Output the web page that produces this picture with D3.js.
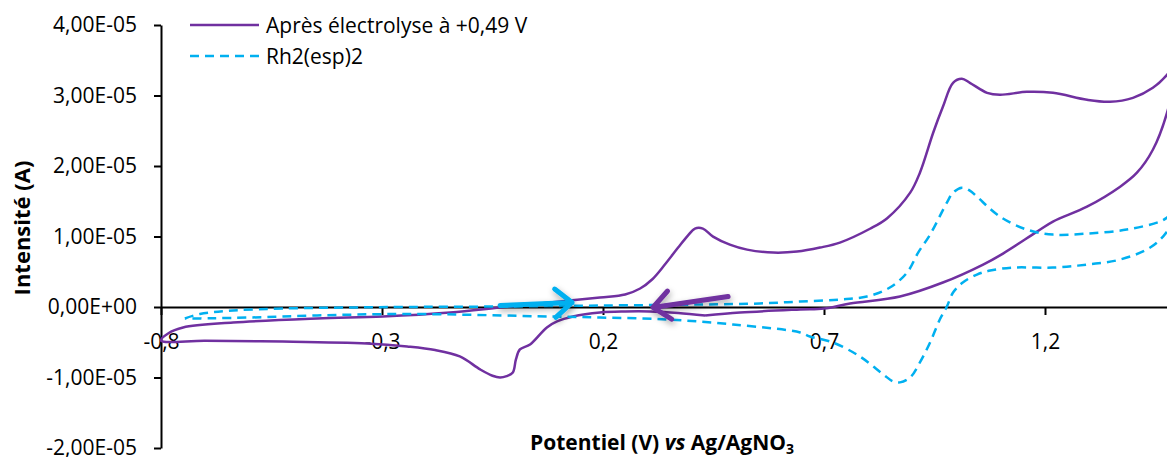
<!DOCTYPE html>
<html>
<head>
<meta charset="utf-8">
<script src="https://cdn.jsdelivr.net/npm/d3@7"></script>
<style>
  body { margin: 0; background: #fff; }
  svg { display: block; font-family: "Open Sans", sans-serif; }
</style>
</head>
<body>
<div id="cv_chart"></div>
<script>
//Data (potential in V, current in µA)
var seriesNames = ["Après électrolyse à +0,49 V", "Rh2(esp)2"];

var purpleV = [0.431, 0.370, 0.306, 0.250, 0.193, 0.132, 0.096, 0.073, 0.035, 0.012, 0.003, -0.004, -0.018, -0.033, -0.050, -0.078, -0.124, -0.180, -0.243, -0.334, -0.524, -0.700, -0.800,
  -0.784, -0.750, -0.637, -0.447, -0.298, -0.146, -0.033, 0.080, 0.193, 0.250, 0.284, 0.311, 0.340, 0.370, 0.392, 0.408, 0.426, 0.449, 0.487, 0.526, 0.585, 0.639, 0.691, 0.736, 0.804, 0.843, 0.895, 0.917, 0.947, 0.969, 0.992, 1.012, 1.030, 1.069, 1.098, 1.159, 1.218, 1.295, 1.347, 1.399, 1.444, 1.476, 1.500,
  1.476, 1.444, 1.408, 1.370, 1.295, 1.218, 1.182, 1.105, 1.060, 0.969, 0.872, 0.759, 0.700, 0.646, 0.510, 0.431];
var purpleI = [-1.20, -0.85, -0.64, -0.64, -0.78, -1.35, -2.05, -2.90, -5.31, -6.02, -7.44, -9.28, -9.80, -10.00, -9.75, -8.85, -7.01, -6.10, -5.60, -5.17, -4.89, -4.80, -4.74,
  -3.75, -2.90, -2.20, -1.63, -1.35, -0.78, -0.07, 0.64, 1.35, 1.77, 2.62, 3.90, 6.02, 8.43, 10.13, 11.12, 11.12, 9.99, 8.85, 8.14, 7.72, 7.86, 8.43, 9.14, 11.10, 12.60, 16.22, 19.05, 24.72, 28.40, 31.80, 32.37, 31.80, 30.38, 30.10, 30.52, 30.38, 29.39, 29.11, 29.67, 31.09, 32.93, 35.0,
  27.55, 22.31, 19.05, 17.07, 14.23, 12.11, 10.69, 7.58, 6.02, 3.47, 1.49, 0.50, -0.21, -0.35, -0.78, -1.20];

var cyanV = [-0.746, -0.712, -0.637, -0.524, -0.373, -0.259, -0.033, 0.193, 0.419, 0.555, 0.646, 0.736, 0.797, 0.849, 0.888, 0.913, 0.940, 0.978, 0.992, 1.012, 1.030, 1.046, 1.098, 1.159, 1.218, 1.295, 1.385, 1.460, 1.476, 1.500,
  1.476, 1.438, 1.370, 1.295, 1.218, 1.128, 1.076, 1.046, 1.014, 0.992, 0.978, 0.962, 0.940, 0.917, 0.895, 0.872, 0.856, 0.834, 0.781, 0.720, 0.668, 0.646, 0.494, 0.345, 0.193, 0.080, -0.243, -0.447, -0.599, -0.690, -0.746];
var cyanI = [-1.63, -0.99, -0.50, -0.21, -0.07, 0.00, 0.07, 0.21, 0.35, 0.50, 0.78, 1.06, 1.49, 2.76, 4.89, 7.72, 10.27, 14.80, 16.22, 16.93, 16.50, 15.65, 12.82, 10.98, 10.27, 10.41, 10.98, 12.11, 12.68, 14.0,
  10.69, 8.43, 6.73, 6.02, 5.59, 5.59, 5.17, 4.60, 3.47, 2.05, 0.07, -1.77, -5.03, -7.86, -9.99, -10.69, -10.55, -9.56, -7.01, -5.03, -4.18, -3.61, -2.48, -1.77, -1.49, -1.35, -0.99, -1.20, -1.49, -1.60, -1.63];

//Scan direction arrows (tail, head)
var arrowCyanV = [-0.033, 0.130];
var arrowCyanI = [0.21, 0.64];
var arrowPurpleV = [0.483, 0.313];
var arrowPurpleI = [1.49, -0.07];

//Ticks
var xTicks = [-0.8, -0.3, 0.2, 0.7, 1.2];
var xTickLabels = ["-0,8", "-0,3", "0,2", "0,7", "1,2"];
var yTicks = [-2e-5, -1e-5, 0, 1e-5, 2e-5, 3e-5, 4e-5];
var yTickLabels = ["-2,00E-05", "-1,00E-05", "0,00E+00", "1,00E-05", "2,00E-05", "3,00E-05", "4,00E-05"];

var purple = "#7030A0",
    cyan = "#00B0F0";

var width = 1167,
    height = 457;

var svg = d3.select("#cv_chart")
  .append("svg")
    .attr("width", width)
    .attr("height", height);

//Shadow for arrows
var defs = svg.append("defs");
var shadow = defs.append("filter")
    .attr("id", "arrowShadow")
    .attr("x", "-50%").attr("y", "-100%")
    .attr("width", "200%").attr("height", "300%");
shadow.append("feDropShadow")
    .attr("dx", 1)
    .attr("dy", 3)
    .attr("stdDeviation", 3)
    .attr("flood-color", "#000")
    .attr("flood-opacity", 0.35);

//Scales
var x = d3.scaleLinear()
  .domain([-0.8, 1.5])
  .range([161, 161 + 2.3 * 442]);
var y = d3.scaleLinear()
  .domain([-2e-5, 4e-5])
  .range([448, 25]);

//Y Axis
var yAxis = svg.append("g")
  .attr("transform", "translate(" + x(-0.8) + ",0)")
  .call(d3.axisLeft(y)
    .tickValues(yTicks)
    .tickSize(7)
    .tickSizeOuter(0)
    .tickFormat(function(d, i) { return yTickLabels[i]; }));
yAxis.select(".domain").attr("stroke", "#000").attr("stroke-width", 2);
yAxis.selectAll(".tick line").attr("stroke", "#000").attr("stroke-width", 2);
yAxis.selectAll(".tick text")
  .attr("x", -24)
  .attr("fill", "#000")
  .style("font-family", "'Open Sans', sans-serif")
  .style("font-size", "21px");

//X Axis (crosses at 0)
var xAxis = svg.append("g")
  .attr("transform", "translate(0," + y(0) + ")")
  .call(d3.axisBottom(x)
    .tickValues(xTicks)
    .tickSize(8)
    .tickSizeOuter(0)
    .tickFormat(function(d, i) { return xTickLabels[i]; }));
xAxis.select(".domain").attr("stroke", "#000").attr("stroke-width", 2);
xAxis.selectAll(".tick line").attr("stroke", "#000").attr("stroke-width", 2);
xAxis.selectAll(".tick text")
  .attr("y", 42)
  .attr("dy", null)
  .attr("fill", "#000")
  .style("font-family", "'Open Sans', sans-serif")
  .style("font-size", "21px");

//Axis titles
var xTitle = svg.append("text")
  .attr("x", 662)
  .attr("y", 450)
  .attr("text-anchor", "middle")
  .style("font-size", "21px")
  .style("font-weight", "bold");
xTitle.append("tspan").text("Potentiel (V) ");
xTitle.append("tspan").style("font-style", "italic").text("vs");
xTitle.append("tspan").text(" Ag/AgNO");
xTitle.append("tspan").attr("dy", 4).style("font-size", "14px").text("3");

svg.append("text")
  .attr("transform", "translate(30,228)rotate(-90)")
  .attr("text-anchor", "middle")
  .style("font-size", "22px")
  .style("font-weight", "bold")
  .text("Intensité (A)");

//Curves
var line = d3.line()
  .x(function(d) { return x(d[0]); })
  .y(function(d) { return y(d[1] * 1e-6); })
  .curve(d3.curveCatmullRom.alpha(0.5));

var purpleData = purpleV.map(function(v, i) { return [v, purpleI[i]]; });
var cyanData = cyanV.map(function(v, i) { return [v, cyanI[i]]; });

svg.append("path")
  .datum(purpleData)
  .attr("fill", "none")
  .attr("stroke", purple)
  .attr("stroke-width", 2.5)
  .attr("d", line);

svg.append("path")
  .datum(cyanData)
  .attr("fill", "none")
  .attr("stroke", cyan)
  .attr("stroke-width", 2.5)
  .attr("stroke-dasharray", "9,6")
  .attr("d", line);

//Arrows
function drawArrow(vs, is, color) {
  var x0 = x(vs[0]), y0 = y(is[0] * 1e-6),
      x1 = x(vs[1]), y1 = y(is[1] * 1e-6);
  var ang = Math.atan2(y1 - y0, x1 - x0),
      len = 22, spread = 0.7;
  var a1 = [x1 - len * Math.cos(ang - spread), y1 - len * Math.sin(ang - spread)],
      a2 = [x1 - len * Math.cos(ang + spread), y1 - len * Math.sin(ang + spread)];
  var g = svg.append("g").attr("filter", "url(#arrowShadow)");
  g.append("path")
    .attr("d", "M" + x0 + "," + y0 + "L" + x1 + "," + y1 +
               "M" + a1[0] + "," + a1[1] + "L" + x1 + "," + y1 + "L" + a2[0] + "," + a2[1])
    .attr("fill", "none")
    .attr("stroke", color)
    .attr("stroke-width", 5)
    .attr("stroke-linecap", "round")
    .attr("stroke-linejoin", "round");
}
drawArrow(arrowCyanV, arrowCyanI, cyan);
drawArrow(arrowPurpleV, arrowPurpleI, purple);

//Legend
var legend = svg.append("g");
legend.append("line")
  .attr("x1", 190).attr("x2", 259)
  .attr("y1", 25).attr("y2", 25)
  .attr("stroke", purple)
  .attr("stroke-width", 2.5);
legend.append("text")
  .attr("x", 266).attr("y", 26)
  .attr("dy", "0.35em")
  .style("font-size", "21px")
  .text(seriesNames[0]);
legend.append("line")
  .attr("x1", 190).attr("x2", 259)
  .attr("y1", 56).attr("y2", 56)
  .attr("stroke", cyan)
  .attr("stroke-width", 2.5)
  .attr("stroke-dasharray", "9,6");
legend.append("text")
  .attr("x", 266).attr("y", 57)
  .attr("dy", "0.35em")
  .style("font-size", "21px")
  .text(seriesNames[1]);
</script>
</body>
</html>
